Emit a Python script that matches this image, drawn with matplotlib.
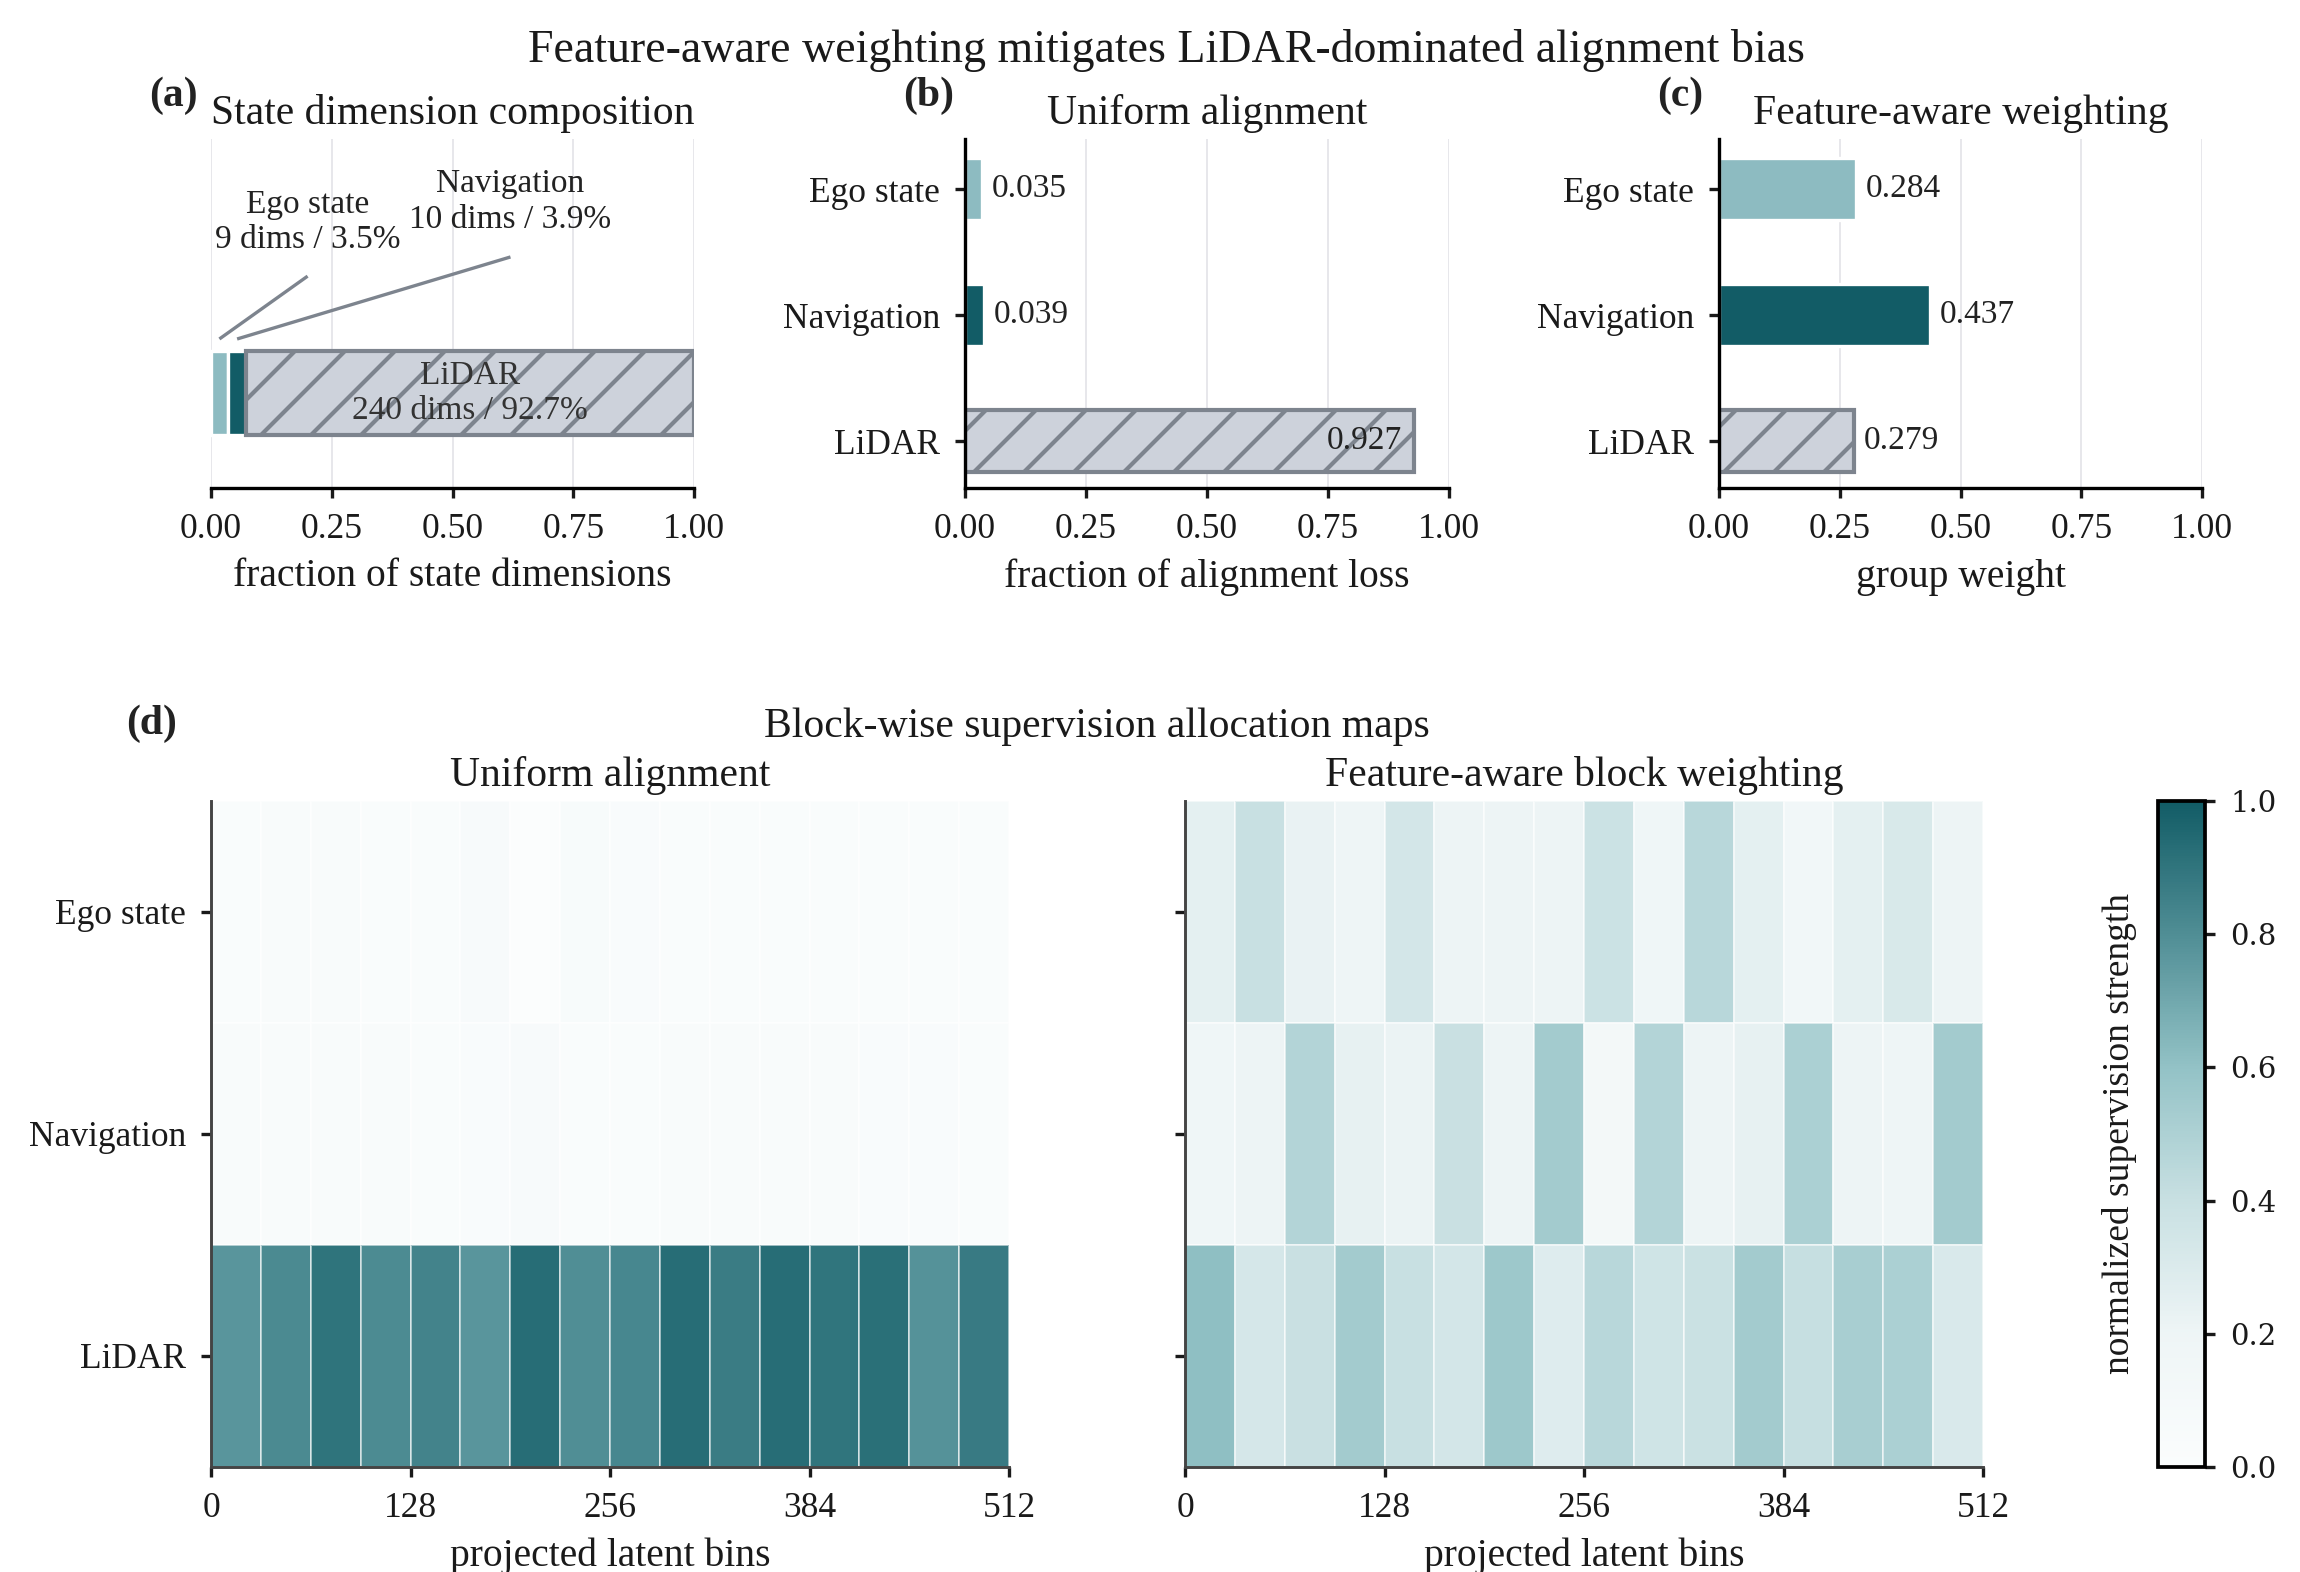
import numpy as np
import matplotlib
matplotlib.use("Agg")
import matplotlib.pyplot as plt
from matplotlib.collections import LineCollection
from matplotlib.transforms import IdentityTransform
from matplotlib.colors import LinearSegmentedColormap

# ---------------- data ----------------
groups = ["Ego state", "Navigation", "LiDAR"]
group_dims = [9, 10, 240]
group_pct = [3.5, 3.9, 92.7]
uniform_loss_frac = [0.035, 0.039, 0.927]
feature_weight = [0.284, 0.437, 0.279]
frac_ticks = [0.0, 0.25, 0.5, 0.75, 1.0]
frac_ticklabels = ["0.00", "0.25", "0.50", "0.75", "1.00"]
n_latent_bins = 512
bin_ticks = [0, 128, 256, 384, 512]
cbar_ticks = [0.0, 0.2, 0.4, 0.6, 0.8, 1.0]

uniform_ego = [0.03, 0.05, 0.05, 0.03, 0.03, 0.07, 0.00, 0.06,
               0.04, 0.035, 0.035, 0.035, 0.035, 0.035, 0.035, 0.035]
uniform_nav = [0.05, 0.05, 0.05, 0.05, 0.03, 0.04, 0.07, 0.025,
               0.025, 0.045, 0.045, 0.05, 0.05, 0.04, 0.04, 0.03]
uniform_lidar = [0.77, 0.815, 0.905, 0.81, 0.84, 0.77, 0.93, 0.80,
                 0.825, 0.93, 0.87, 0.93, 0.90, 0.92, 0.785, 0.875]

weighted_ego = [0.25, 0.40, 0.23, 0.20, 0.34, 0.21, 0.21, 0.21,
                0.385, 0.18, 0.46, 0.25, 0.16, 0.25, 0.32, 0.21]
weighted_nav = [0.18, 0.21, 0.48, 0.24, 0.215, 0.395, 0.21, 0.54,
                0.13, 0.48, 0.21, 0.24, 0.51, 0.21, 0.20, 0.54]
weighted_lidar = [0.61, 0.335, 0.395, 0.54, 0.40, 0.34, 0.56, 0.285,
                  0.46, 0.36, 0.39, 0.54, 0.41, 0.52, 0.51, 0.31]

# ---------------- style ----------------
DPI = 300
SERIF = ["Liberation Serif", "DejaVu Serif"]
plt.rcParams["font.family"] = SERIF
plt.rcParams["text.color"] = "#1a1a1a"
plt.rcParams["axes.labelcolor"] = "#1a1a1a"
plt.rcParams["xtick.color"] = "#1a1a1a"
plt.rcParams["ytick.color"] = "#1a1a1a"

HATCH_C = "#7d848e"
HATCH_SPACING_PX = 50
HATCH_PHASE_PX = 24
HATCH_LW = 1.0
EGO_C = "#8dbbc1"
NAV_C = "#125c66"
LIDAR_FACE = "#cdd2db"
GRID_C = "#e6e6ea"

TICK_FS = 8.5
LABEL_FS = 9.5
TITLE_FS = 10
VAL_FS = 8
TITLE_PAD = 3.6

cmap = LinearSegmentedColormap.from_list(
    "sup",
    [(0.0, "#fbfdfd"), (0.2, "#eef5f6"), (0.4, "#c8e0e2"),
     (0.6, "#93c2c6"), (0.8, "#508e95"), (1.0, "#125c66")])

W, H = 2300, 1572
fig = plt.figure(figsize=(W / DPI, H / DPI), dpi=DPI)


def fx(px):
    return px / W


def fy(py):
    return 1 - py / H


hatched = []


def add_hatch(ax, patch):
    """Diagonal '/' hatch lines clipped to a bar patch (display space)."""
    bb = patch.get_window_extent()
    x0, y0, x1, y1 = bb.x0, bb.y0, bb.x1, bb.y1
    h = y1 - y0
    k0 = np.floor((x0 - h - y0 - HATCH_PHASE_PX) / HATCH_SPACING_PX) - 1
    k1 = np.ceil((x1 - y0 - HATCH_PHASE_PX) / HATCH_SPACING_PX) + 1
    segs = []
    for k in np.arange(k0, k1 + 1):
        c = y0 + HATCH_PHASE_PX + k * HATCH_SPACING_PX  # x where line meets y0
        segs.append([(c, y0), (c + h, y1)])
    lc = LineCollection(segs, transform=IdentityTransform(), colors=HATCH_C,
                        linewidths=HATCH_LW, capstyle="butt",
                        zorder=patch.get_zorder() + 0.05)
    ax.add_collection(lc, autolim=False)
    lc.set_clip_path(patch)  # after add_collection so it is not overridden


top_bottom = fy(488)
top_h = 349 / H
ax_a = fig.add_axes([fx(211), top_bottom, 483 / W, top_h])
ax_b = fig.add_axes([fx(965), top_bottom, 484 / W, top_h])
ax_c = fig.add_axes([fx(1719), top_bottom, 483 / W, top_h])


def style_top(ax, left_spine=True):
    ax.set_xlim(0, 1)
    ax.set_xticks(frac_ticks)
    ax.set_xticklabels(frac_ticklabels, fontsize=TICK_FS)
    ax.spines["top"].set_visible(False)
    ax.spines["right"].set_visible(False)
    ax.spines["left"].set_visible(left_spine)
    for s in ("left", "bottom"):
        ax.spines[s].set_linewidth(0.8)
        ax.spines[s].set_color("black")
    ax.tick_params(length=2.5, width=0.8, pad=3.5)
    ax.grid(axis="x", color=GRID_C, linewidth=0.45)
    ax.set_axisbelow(True)


# ---- (a) composition ----
style_top(ax_a, left_spine=False)
ax_a.set_ylim(0, 1)
ax_a.set_yticks([])
fracs = np.array(group_dims) / np.sum(group_dims)
lefts = np.concatenate([[0], np.cumsum(fracs)[:-1]])
bar_y, bar_h = 0.272, 0.24
ax_a.barh(bar_y, fracs[0], left=lefts[0], height=bar_h, color=EGO_C,
          edgecolor="white", linewidth=0.8)
ax_a.barh(bar_y, fracs[1], left=lefts[1], height=bar_h, color=NAV_C,
          edgecolor="white", linewidth=0.8)
lid = ax_a.barh(bar_y, fracs[2], left=lefts[2], height=bar_h, color=LIDAR_FACE,
                edgecolor=HATCH_C, linewidth=1.0)
hatched.append((ax_a, lid[0]))
ax_a.text(lefts[2] + fracs[2] / 2, bar_y,
          f"{groups[2]}\n{group_dims[2]} dims / {group_pct[2]}%",
          ha="center", va="center", fontsize=VAL_FS, color="#333333", zorder=5)
ax_a.plot([0.20, lefts[0] + fracs[0] / 2], [0.607, 0.427], color=HATCH_C,
          lw=0.8, solid_capstyle="butt")
ax_a.plot([0.62, lefts[1] + fracs[1] / 2], [0.662, 0.427], color=HATCH_C,
          lw=0.8, solid_capstyle="butt")
ax_a.text(0.20, 0.762, f"{groups[0]}\n{group_dims[0]} dims / {group_pct[0]}%",
          ha="center", va="center", fontsize=VAL_FS, color="#222222")
ax_a.text(0.62, 0.82, f"{groups[1]}\n{group_dims[1]} dims / {group_pct[1]}%",
          ha="center", va="center", fontsize=VAL_FS, color="#222222")
ax_a.set_xlabel("fraction of state dimensions", fontsize=LABEL_FS, labelpad=3)
ax_a.set_title("State dimension composition", fontsize=TITLE_FS, pad=TITLE_PAD)


# ---- (b), (c) ----
def group_bars(ax, values, title, xlabel):
    style_top(ax)
    ypos = np.arange(len(groups))
    colors = [EGO_C, NAV_C, LIDAR_FACE]
    for i, v in enumerate(values):
        if i == 2:
            b = ax.barh(ypos[i], v, height=0.49, color=LIDAR_FACE, edgecolor=HATCH_C,
                        linewidth=1.0)
            hatched.append((ax, b[0]))
        else:
            ax.barh(ypos[i], v, height=0.49, color=colors[i], edgecolor="white",
                    linewidth=0.8)
        if v > 0.85:
            ax.text(v - 0.025, ypos[i], f"{v:.3f}", ha="right", va="center",
                    fontsize=VAL_FS, color="#222222", zorder=5)
        else:
            ax.text(v + 0.02, ypos[i], f"{v:.3f}", ha="left", va="center",
                    fontsize=VAL_FS, color="#222222")
    ax.set_yticks(ypos)
    ax.set_yticklabels(groups, fontsize=TICK_FS)
    ax.set_ylim(2.373, -0.397)
    ax.set_title(title, fontsize=TITLE_FS, pad=TITLE_PAD)
    ax.set_xlabel(xlabel, fontsize=LABEL_FS, labelpad=3)


group_bars(ax_b, uniform_loss_frac, "Uniform alignment", "fraction of alignment loss")
group_bars(ax_c, feature_weight, "Feature-aware weighting", "group weight")

for ax, patch in hatched:
    add_hatch(ax, patch)

for ax, lab in ((ax_a, "(a)"), (ax_b, "(b)"), (ax_c, "(c)")):
    ax.text(-0.128, 1.069, lab, transform=ax.transAxes, ha="left", va="bottom",
            fontsize=10, fontweight="bold", color="#222222")

fig.text(0.507, fy(51), "Feature-aware weighting mitigates LiDAR-dominated alignment bias",
         ha="center", va="center", fontsize=11)

# ---- (d) heatmaps ----
hm_bottom = fy(1467)
hm_h = 666 / H
ax_h1 = fig.add_axes([fx(211), hm_bottom, 798 / W, hm_h])
ax_h2 = fig.add_axes([fx(1185), hm_bottom, 798 / W, hm_h])
cax = fig.add_axes([fx(2158), hm_bottom, 47 / W, hm_h])

uniform_map = np.array([uniform_ego, uniform_nav, uniform_lidar])
weighted_map = np.array([weighted_ego, weighted_nav, weighted_lidar])
x_edges = np.linspace(0, n_latent_bins, uniform_map.shape[1] + 1)
y_edges = np.arange(len(groups) + 1)

mesh = None
for ax, data, title in ((ax_h1, uniform_map, "Uniform alignment"),
                        (ax_h2, weighted_map, "Feature-aware block weighting")):
    mesh = ax.pcolormesh(x_edges, y_edges, data, cmap=cmap, vmin=0, vmax=1,
                         edgecolors=(1, 1, 1, 0.55), linewidth=0.45)
    ax.set_xlim(0, n_latent_bins)
    ax.set_ylim(len(groups), 0)
    ax.set_xticks(bin_ticks)
    ax.set_xticklabels([str(b) for b in bin_ticks], fontsize=TICK_FS)
    ax.set_yticks(np.arange(len(groups)) + 0.5)
    ax.spines["top"].set_visible(False)
    ax.spines["right"].set_visible(False)
    for s in ("left", "bottom"):
        ax.spines[s].set_linewidth(0.7)
        ax.spines[s].set_color("#444444")
    ax.tick_params(length=2.5, width=0.8, pad=3.5)
    ax.set_xlabel("projected latent bins", fontsize=LABEL_FS, labelpad=3)
    ax.set_title(title, fontsize=TITLE_FS, pad=TITLE_PAD)

ax_h1.set_yticklabels(groups, fontsize=TICK_FS)
ax_h2.set_yticklabels([])

cbar = fig.colorbar(mesh, cax=cax)
cbar.set_ticks(cbar_ticks)
cbar.ax.tick_params(length=2.5, width=0.8, pad=3.5)
for t in cbar.ax.get_yticklabels():
    t.set_fontfamily("DejaVu Serif")
    t.set_fontsize(7)
cbar.outline.set_linewidth(0.9)
cbar.outline.set_edgecolor("black")
cbar.ax.yaxis.set_label_position("left")
cbar.set_label("normalized supervision strength", fontsize=9, labelpad=5)

fig.text(fx(126), fy(743), "(d)", ha="left", va="bottom", fontsize=10,
         fontweight="bold", color="#222222")
fig.text(fx(1097), fy(727), "Block-wise supervision allocation maps",
         ha="center", va="center", fontsize=10)

fig.savefig("out.png", dpi=DPI)
